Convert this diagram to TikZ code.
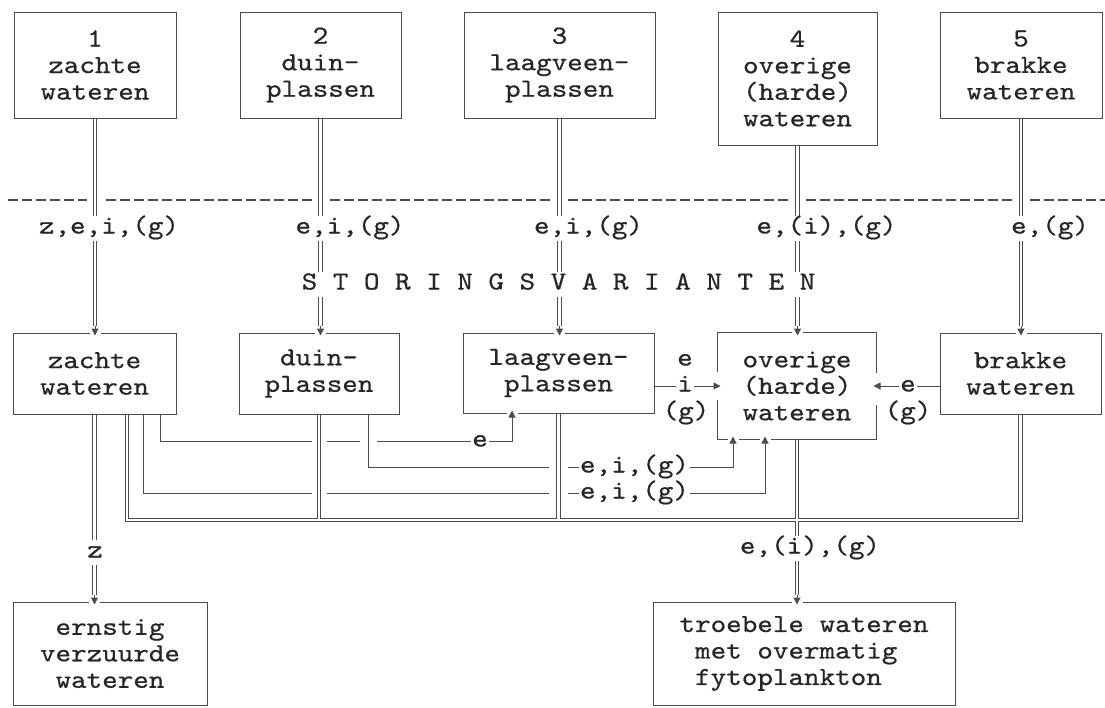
\documentclass[tikz,border=0pt]{standalone}
\usepackage{fontspec}
\usetikzlibrary{arrows.meta,calc}
\definecolor{ln}{gray}{0.3}
\definecolor{tx}{gray}{0.15}
\newfontfamily\lmmono{lmmono10-regular.otf}[FakeStretch=1.14,FakeBold=0.6]
\newcommand\monofnt{\lmmono\fontsize{26}{26.5}\selectfont}
\begin{document}
\begin{tikzpicture}[x=1pt,y=-1pt,
  every node/.style={font=\monofnt, text=tx},
  box/.style={draw=ln, line width=1pt, align=center, inner sep=0pt},
  lbl/.style={fill=white, text height=15pt, text depth=4pt, inner xsep=1.5pt, inner ysep=3pt},
  dbl/.style={draw=white, line width=2.4pt, preaction={draw=ln, line width=4.4pt}},
  dout/.style={draw=ln, line width=4.4pt},
  din/.style={draw=white, line width=2.4pt},
  thinline/.style={draw=ln, line width=1pt},
  arr/.style={draw=ln, line width=1pt, -{Triangle[length=7pt,width=7pt]}, shorten >=-3pt},
  halo/.style={draw=white},
  dashline/.style={draw=ln, line width=1.1pt, dash pattern=on 10pt off 4pt}]
\useasboundingbox (0,0) rectangle (1105,707);

% top row
\node[box, minimum width=162pt, minimum height=106pt] (t1) at (95,65) {1\\zachte\\wateren};
\node[box, minimum width=161pt, minimum height=106pt] (t2) at (320.5,65) {2\\duin-\\plassen};
\node[box, minimum width=191pt, minimum height=106pt] (t3) at (559.5,65) {3\\laagveen-\\plassen};
\node[box, minimum width=159pt, minimum height=133pt] (t4) at (797.5,78.5) {4\\overige\\(harde)\\wateren};
\node[box, minimum width=162pt, minimum height=106pt] (t5) at (1021,65) {5\\brakke\\wateren};

% middle row
\node[box, minimum width=163pt, minimum height=81pt] (m1) at (94.5,373.5) {zachte\\wateren};
\node[box, minimum width=160pt, minimum height=81pt] (m2) at (319,373.5) {duin-\\plassen};
\node[box, minimum width=191pt, minimum height=80pt] (m3) at (558.5,373) {laagveen-\\plassen};
\node[box, draw=none, minimum width=158pt, minimum height=106pt] (m4) at (797,386) {overige\\(harde)\\wateren};
\node[box, minimum width=161pt, minimum height=81pt] (m5) at (1020.5,373.5) {brakke\\wateren};
\draw[thinline] ($(m4.west)+(0,-14)$) -- (m4.north west) -- (m4.north east) -- ($(m4.east)+(0,-13)$);
\draw[thinline] ($(m4.east)+(0,19)$) -- (m4.south east) -- (m4.south west) -- ($(m4.west)+(0,14)$);

% bottom row
\node[box, minimum width=194pt, minimum height=103pt] (b1) at (110,653.5) {ernstig\\verzuurde\\wateren};
\node[box, align=left, minimum width=302pt, minimum height=103pt] (b2) at (804,653.5) {troebele wateren\\\hspace*{15.6pt}met overmatig\\\hspace*{15.6pt}fytoplankton};

% helper coordinates
\coordinate (dl) at (0,200);
\coordinate (busy) at (0,520);
\coordinate (r1) at (0,441);
\coordinate (r2) at (0,467);
\coordinate (r3) at (0,493);
\foreach \i in {1,...,5} {\coordinate (a\i) at (t\i.south |- m\i.north);}
\coordinate (a6) at (m1.south |- b1.north);
\coordinate (a7) at (m4.south |- b2.north);
\coordinate (z2) at ($(m1.south)+(32.5,0)$);
\coordinate (z3) at ($(m1.south)+(48.5,0)$);
\coordinate (z4) at ($(m1.south)+(65.5,0)$);
\coordinate (d2) at ($(m2.south)+(49,0)$);
\coordinate (l1) at ($(m3.south)+(-46.5,0)$);
\coordinate (o1) at ($(m4.south)+(-64,0)$);
\coordinate (o2) at ($(m4.south)+(-32,0)$);

% small gaps in borders at arrow heads
\foreach \p in {a1,a2,a3,a4,a5,a6,a7,l1,o1,o2}
  {\fill[white] ($(\p)+(-5.5,-2.5)$) rectangle ($(\p)+(5.5,2.5)$);}

% dashed separator
\draw[dashline] (8,200) -- (1105,200);
\foreach \i in {1,...,5}
  {\fill[white] ($(t\i.south |- dl)+(-8,-5)$) rectangle ($(t\i.south |- dl)+(8,5)$);}

% top to middle double connectors
\foreach \i in {1,...,5} {
  \draw[dbl] (t\i.south) -- ($(a\i)+(0,-7)$);
  \draw[arr] ($(a\i)+(0,-7)$) -- (a\i);
}

% single connectors
\draw[arr] (z4) -- (z4 |- r1) -- (l1 |- r1) -- (l1);
\draw[halo, line width=17pt] ($(d2 |- r1)+(0,-5)$) -- ($(d2 |- r1)+(0,5)$);
\draw[arr] (d2) -- (d2 |- r2) -- (o1 |- r2) -- (o1);
\draw[arr] (z3) -- (z3 |- r3) -- (o2 |- r3) -- (o2);
\draw[arr] (m3.east |- m4.center) -- (m4.west);
\draw[arr] (m5.west |- m4.center) -- (m4.east);

% hops
\draw[halo, line width=15pt] ($(m2.south |- r1)+(0,-8)$) -- ($(m2.south |- r3)+(0,8)$);
\draw[halo, line width=19pt] ($(m3.south |- r2)+(0,-8)$) -- ($(m3.south |- r3)+(0,8)$);

% double connectors below
\draw[dbl] (m1.south) -- ($(a6)+(0,-7)$);
\draw[arr] ($(a6)+(0,-7)$) -- (a6);
\draw[dout] (z2) -- (z2 |- busy) -- (m5.south |- busy) -- (m5.south);
\draw[dout] (m2.south) -- (m2.south |- busy);
\draw[dout] (m3.south) -- (m3.south |- busy);
\draw[dout] (m4.south) -- ($(a7)+(0,-7)$);
\draw[din] (z2) -- (z2 |- busy) -- (m5.south |- busy) -- (m5.south);
\draw[din] (m2.south) -- (m2.south |- busy);
\draw[din] (m3.south) -- (m3.south |- busy);
\draw[din] (m4.south) -- ($(a7)+(0,-7)$);
\draw[arr] ($(a7)+(0,-7)$) -- (a7);

% labels
\node[lbl] (q1) at (109,228) {z,e,i,(g)};
\node[lbl] (q2) at (350,228) {e,i,(g)};
\node[lbl] (q3) at (588.5,228) {e,i,(g)};
\node[lbl] (q4) at (826.5,228) {e,(i),(g)};
\node[lbl] (q5) at (1050,228) {e,(g)};
\node[lbl] (sv) at (558.5,284) {S T O R I N G S V A R I A N T E N};
\node[lbl] (qz) at (95,552) {z};
\node[lbl] (qo) at (810,548) {e,(i),(g)};
\node[lbl] (qe1) at (480,441) {e};
\node[lbl] (qs3) at (634.5,467) {e,i,(g)};
\node[lbl] (qs2) at (634.5,493) {e,i,(g)};
\node[lbl] (le) at (685,360) {e};
\node[lbl] (li) at (685,386) {i};
\node[lbl] (lg) at (686,413) {(g)};
\node[lbl] (re) at (908,386) {e};
\node[lbl] (rg) at (908,413) {(g)};
\end{tikzpicture}
\end{document}
